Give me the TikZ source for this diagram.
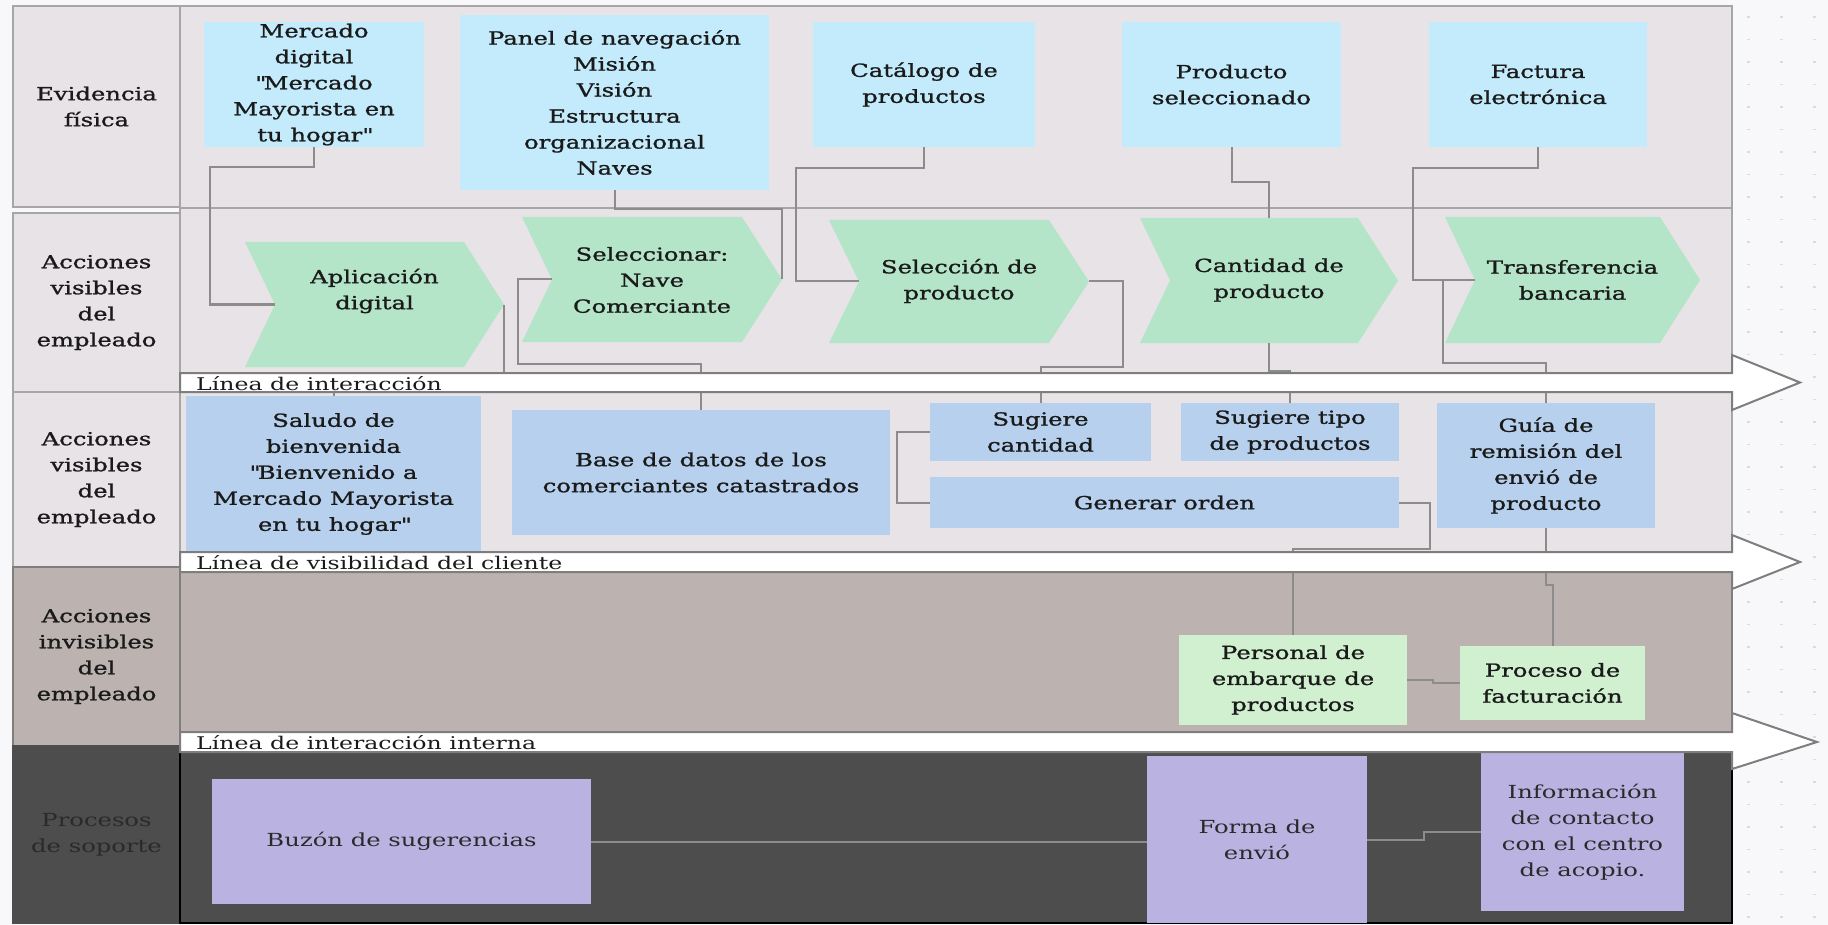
\documentclass[tikz,border=0pt]{standalone}
\usepackage{fontspec}
\setmainfont{DejaVu Serif}[FakeStretch=1.35]
\newfontfamily\cardfont{DejaVu Serif}[FakeStretch=1.35, FakeBold=1.2]
\usetikzlibrary{calc}

\definecolor{canvas}{HTML}{F8F8FA}
\definecolor{dotc}{HTML}{DADAE0}
\definecolor{lanebg}{HTML}{E8E3E6}
\definecolor{invisbg}{HTML}{BCB3B1}
\definecolor{supportbg}{HTML}{4D4D4D}
\definecolor{evid}{HTML}{C3EBFB}
\definecolor{chevfill}{HTML}{B5E5C8}
\definecolor{front}{HTML}{B6D0EE}
\definecolor{back}{HTML}{D0F0D0}
\definecolor{supp}{HTML}{BAB3E2}
\definecolor{wirec}{HTML}{8C8C8C}
\definecolor{frame}{HTML}{A6A6A6}
\definecolor{darkframe}{HTML}{7E7E7E}
\definecolor{ink}{HTML}{1A1A1A}
\definecolor{suppink}{HTML}{2A2A2A}

\tikzset{
  lbl/.style={font=\cardfont\fontsize{18}{26}\selectfont, text=ink, align=center, inner sep=0pt},
  card/.style={lbl, rectangle},
  cardextra/.style={},
  supptext/.style={font=\rmfamily\fontsize{18}{26}\selectfont, text=suppink},
  lanecell/.style={lbl, rectangle, draw=frame, line width=2pt, minimum width=167pt},
  lane/.style={draw=frame, line width=2pt},
  wire/.style={draw=wirec, line width=2pt},
  bandarrow/.style={fill=white, draw=darkframe, line width=2pt, line join=miter},
  bandtext/.style={font=\rmfamily\fontsize{17.5}{20}\selectfont, text=ink, inner sep=0pt, anchor=base west},
}

% rectangle card: name, fill, x1, y1, x2, y2, text
\newcommand\card[7]{%
  \node[card, fill=#2, minimum width={(#5)-(#3)}, minimum height={(#6)-(#4)}, cardextra]
    (#1) at ({((#3)+(#5))/2},{((#4)+(#6))/2}) {#7};}

% chevron: name, left, top, body right, bottom, text centre y, text
\newcommand\chevron[7]{%
  \fill[chevfill] (#2,#3) -- (#4,#3) -- ({#4+40},{(#3+#5)/2}) -- (#4,#5)
    -- (#2,#5) -- ({#2+30},{(#3+#5)/2}) -- cycle;
  \coordinate (#1-tip) at ({#4+40},{(#3+#5)/2});
  \coordinate (#1-notch) at ({#2+30},{(#3+#5)/2});
  \coordinate (#1-top) at ({(#2+#4+40)/2},#3);
  \coordinate (#1-bot) at ({(#2+#4+40)/2},#5);
  \node[lbl] (#1) at ({(#2+#4+40)/2},#6) {#7};}

% separation line drawn as a wide arrow: top, bottom, head top, head bottom, tip x
\newcommand\band[5]{%
  \path[bandarrow] (180,#1) -- (1732,#1) -- (1732,#3) -- (#5,{(#1+#2)/2})
    -- (1732,#4) -- (1732,#2) -- (180,#2) -- cycle;}

\newcommand\qq{\textquotedbl}

\begin{document}
\begin{tikzpicture}[x=1pt,y=-1pt]
\useasboundingbox (0,0) rectangle (1828,925);
\fill[canvas] (0,0) rectangle (1828,925);

% canvas dot grid
\foreach \px in {1748,1781,1814}
  \foreach \k in {0,...,40}
    \fill[dotc] ({\px-1.5},{17+22.5*\k-0.7}) rectangle ++(3,1.4);

% lane headers
\node[lanecell, fill=lanebg, minimum height=201pt] (hEv) at (96.5,106.5) {Evidencia\\física};
\node[lanecell, fill=lanebg, minimum height=179pt] (hVis1) at (96.5,302.5) {Acciones\\visibles\\del\\empleado};
\node[lanecell, fill=lanebg, minimum height=175pt] (hVis2) at (96.5,479.5) {Acciones\\visibles\\del\\empleado};
\node[lanecell, fill=invisbg, draw=darkframe, minimum height=179pt] (hInv) at (96.5,656.5) {Acciones\\invisibles\\del\\empleado};
\node[lanecell, supptext, fill=supportbg, draw=supportbg, minimum height=177pt] (hSup) at (96.5,834.5) {Procesos\\de soporte};

% lanes
\path[lane, fill=lanebg] (180,6) rectangle (1732,208);
\path[lane, fill=lanebg] (180,208) rectangle (1732,382);
\path[lane, fill=lanebg] (180,382) rectangle (1732,562);
\path[lane, fill=invisbg, draw=darkframe] (180,562) rectangle (1732,742);
\path[lane, fill=supportbg, draw=black] (180,742) rectangle (1732,923);

% physical evidence
\card{ev1}{evid}{204}{22}{424}{147}{Mercado\\digital\\\qq Mercado\\Mayorista en\\tu hogar\qq}
\card{ev2}{evid}{460}{15}{769}{190}{Panel de navegación\\Misión\\Visión\\Estructura\\organizacional\\Naves}
\card{ev3}{evid}{813}{22}{1035}{147}{Catálogo de\\productos}
\card{ev4}{evid}{1122}{22}{1341}{147}{Producto\\seleccionado}
\card{ev5}{evid}{1429}{22}{1647}{147}{Factura\\electrónica}

% customer steps
\chevron{ch1}{245}{242}{464}{367}{291}{Aplicación\\digital}
\chevron{ch2}{522}{217}{742}{342}{280}{Seleccionar:\\Nave\\Comerciante}
\chevron{ch3}{829}{220}{1049}{343}{281}{Selección de\\producto}
\chevron{ch4}{1140}{218}{1358}{343}{280}{Cantidad de\\producto}
\chevron{ch5}{1445}{217}{1660}{343}{280}{Transferencia\\bancaria}

% visible employee actions
\card{fr1}{front}{186}{396}{481}{552}{Saludo de\\bienvenida\\\qq Bienvenido a\\Mercado Mayorista\\en tu hogar\qq}
\card{fr2}{front}{512}{410}{890}{535}{Base de datos de los\\comerciantes catastrados}
\card{sg1}{front}{930}{403}{1151}{461}{Sugiere\\cantidad}
\card{sg2}{front}{1181}{403}{1399}{461}{Sugiere tipo\\de productos}
\card{go}{front}{930}{477}{1399}{528}{Generar orden}
\card{gu}{front}{1437}{403}{1655}{528}{Guía de\\remisión del\\envió de\\producto}

% invisible actions
\card{pe}{back}{1179}{635}{1407}{725}{Personal de\\embarque de\\productos}
\card{pf}{back}{1460}{646}{1645}{720}{Proceso de\\facturación}

% support processes
\begin{scope}[cardextra/.style={supptext}]
\card{bz}{supp}{212}{779}{591}{904}{Buzón de sugerencias}
\card{fe}{supp}{1147}{756}{1367}{923}{Forma de\\envió}
\card{ic}{supp}{1481}{753}{1684}{911}{Información\\de contacto\\con el centro\\de acopio.}
\end{scope}

% connectors
\draw[wire] (ev1.south) |- (210,167) |- (ch1-notch);
\draw[wire] (ev2.south) |- ($(ch2-tip)+(0,-70)$) -- (ch2-tip);
\draw[wire] (ev3.south) |- (796,168) |- (ch3-notch);
\draw[wire] (ev4.south) |- ($(ch4-top)+(0,-36)$) -- (ch4-top);
\draw[wire] (ev5.south) |- (1413,168) |- (ch5-notch);
\draw[wire] (ch1-tip) |- ($(fr1.north)+(0,-14)$) -- (fr1.north);
\draw[wire] (ch2-notch) -- ++(-34,0) |- ($(fr2.north)+(0,-46)$) -- (fr2.north);
\draw[wire] (ch3-tip) -- ++(34,0) |- ($(sg1.north)+(0,-36)$) -- (sg1.north);
\draw[wire] (ch4-bot) |- ($(sg2.north)+(0,-32)$) -- (sg2.north);
\draw[wire] (ch5-notch) -- ++(-32,0) |- ($(gu.north)+(0,-40)$) -- (gu.north);
\draw[wire] (sg1.west) -- ++(-33,0) |- (go.west);
\draw[wire] (go.east) -- ++(31,0) |- ($(pe.north)+(0,-86)$) -- (pe.north);
\draw[wire] (gu.south) |- ($(pf.north)+(0,-61)$) -- (pf.north);
\draw[wire] (pe.east) -- ++(26,0) |- (pf.west);
\draw[wire] (bz.east) -- (bz.east -| fe.west);
\draw[wire] (fe.east) -- ++(57,0) |- (ic.west);

% separation lines
\band{373}{392}{355}{410}{1800}
\band{552}{572}{535}{589}{1800}
\band{732}{752}{713}{769}{1817}
\node[bandtext] (lnInt) at (196,390) {Línea de interacción};
\node[bandtext] (lnVis) at (196,569) {Línea de visibilidad del cliente};
\node[bandtext] (lnInn) at (196,749) {Línea de interacción interna};
\end{tikzpicture}
\end{document}
